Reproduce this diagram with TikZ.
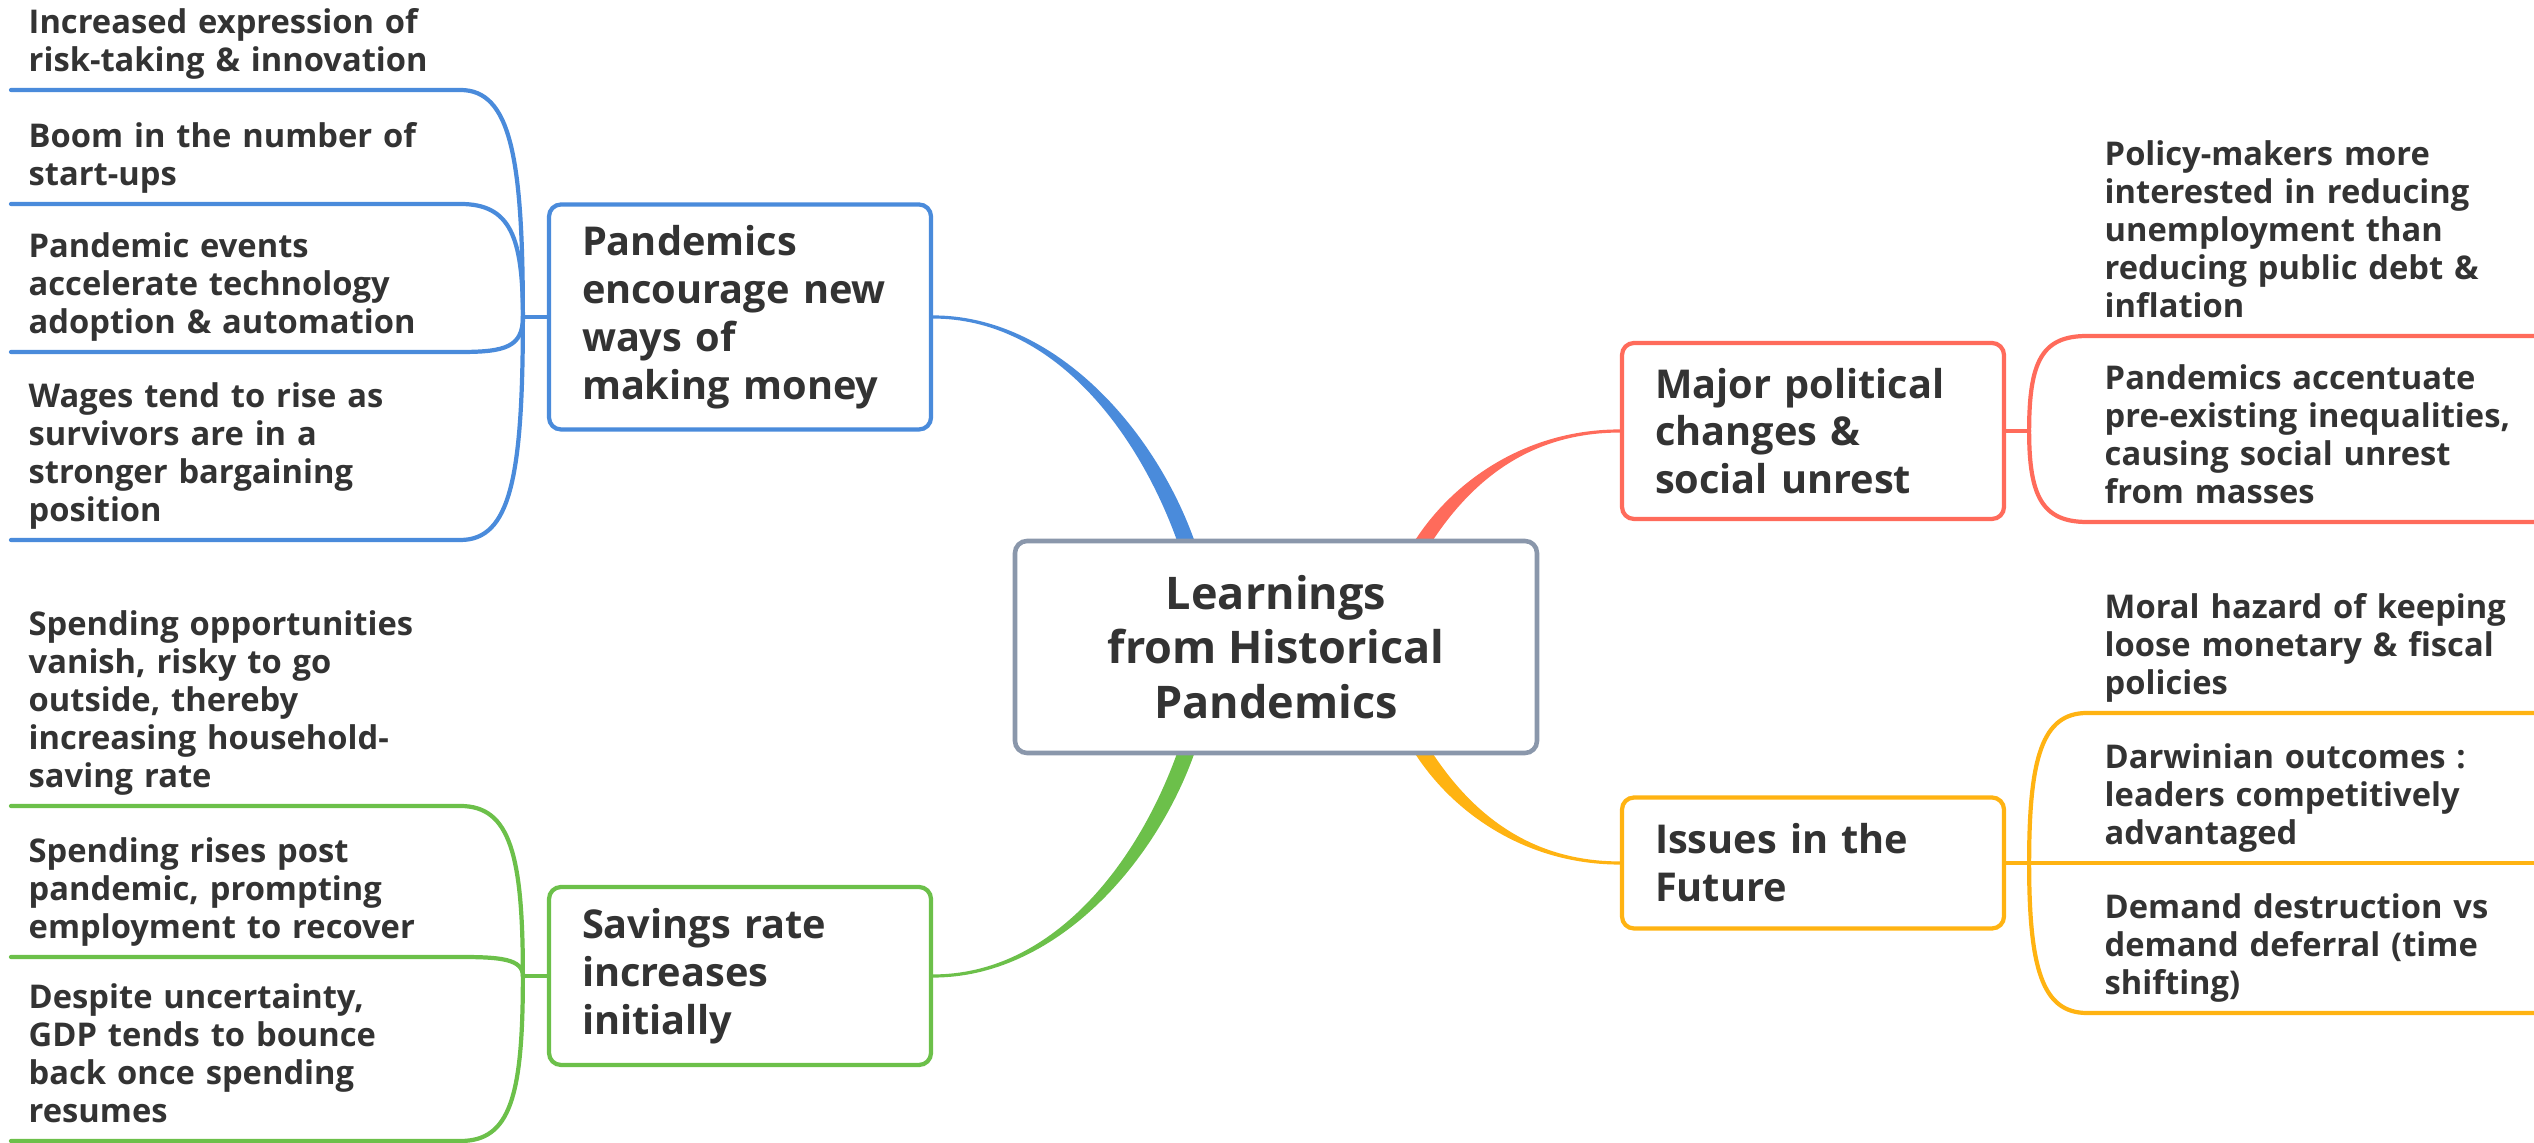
\documentclass[tikz,border=0pt]{standalone}
\usepackage{fontspec}
\setmainfont{Open Sans}
\usepackage{xcolor}
\usepackage{tikz}
\usetikzlibrary{calc,positioning,backgrounds}
\definecolor{colorMoney}{HTML}{4A8BDB}
\definecolor{colorSave}{HTML}{6CC04A}
\definecolor{colorPol}{HTML}{FF6B5B}
\definecolor{colorFut}{HTML}{FFB312}
\definecolor{colorHub}{HTML}{8A97AB}
\definecolor{colorTxt}{HTML}{333333}
\tikzset{
   every path/.style={line cap=round},
   twig/.style={line width=1.2pt},
   limb/.style={line width=0.9pt},
}

\begin{document}
\begin{tikzpicture}[
  hub/.style={rectangle, rounded corners=0.12cm, draw=colorHub, line width=1.3pt, fill=white, minimum width=5.22cm, minimum height=2.12cm, align=center, text=colorTxt, font=\fontsize{12.8}{15.6}\selectfont\bfseries},
  topic/.style={rectangle, rounded corners=0.12cm, line width=1.2pt, fill=white, text width=3.16cm, inner xsep=0.33cm, inner ysep=0.1cm, align=left, text=colorTxt, font=\fontsize{11.3}{13.6}\selectfont\bfseries},
  leaf/.style={anchor=south west, text width=4.14cm, inner xsep=0.17cm, inner ysep=1.75pt, align=left, execute at end node=\strut, text=colorTxt, font=\fontsize{9.3}{10.8}\selectfont\bfseries}]
  \useasboundingbox (0,0) rectangle (25.34,11.43);

  \node [hub] (hub) at (12.76,4.96) {Learnings\\ from Historical\\ Pandemics};

  \node [topic, draw=colorMoney, minimum height=2.25cm] (money) at (7.40,8.26) {Pandemics\\ encourage new\\ ways of\\ making money};
  \node [topic, draw=colorSave, minimum height=1.78cm] (save) at (7.40,1.67) {Savings rate\\ increases\\ initially};
  \node [topic, draw=colorPol, minimum height=1.76cm] (pol) at (18.13,7.12) {Major political\\ changes \&\\ social unrest};
  \node [topic, draw=colorFut, minimum height=1.31cm] (fut) at (18.13,2.80) {Issues in the\\ Future};

  \node [leaf] (m1) at (0.11,10.53) {Increased expression of\\ risk-taking \& innovation};
  \node [leaf] (m2) at (0.11,9.39) {Boom in the number of\\ start-ups};
  \node [leaf] (m3) at (0.11,7.91) {Pandemic events\\ accelerate technology\\ adoption \& automation};
  \node [leaf] (m4) at (0.11,6.03) {Wages tend to rise as\\ survivors are in a\\ stronger bargaining\\ position};

  \node [leaf] (s1) at (0.11,3.37) {Spending opportunities\\ vanish, risky to go\\ outside, thereby\\ increasing household-\\ saving rate};
  \node [leaf] (s2) at (0.11,1.86) {Spending rises post\\ pandemic, prompting\\ employment to recover};
  \node [leaf] (s3) at (0.11,0.02) {Despite uncertainty,\\ GDP tends to bounce\\ back once spending\\ resumes};

  \node [leaf] (p1) at (20.87,8.07) {Policy-makers more\\ interested in reducing\\ unemployment than\\ reducing public debt \&\\ inflation};
  \node [leaf] (p2) at (20.87,6.21) {Pandemics accentuate\\ pre-existing inequalities,\\ causing social unrest\\ from masses};

  \node [leaf] (f1) at (20.87,4.30) {Moral hazard of keeping\\ loose monetary \& fiscal\\ policies};
  \node [leaf] (f2) at (20.87,2.80) {Darwinian outcomes :\\ leaders competitively\\ advantaged};
  \node [leaf] (f3) at (20.87,1.30) {Demand destruction vs\\ demand deferral (time\\ shifting)};

  \coordinate (mj) at ($(money.west)+(-0.24,0)$);
  \coordinate (sj) at ($(save.west)+(-0.24,0)$);
  \coordinate (pj) at ($(pol.east)+(0.23,0)$);
  \coordinate (fj) at ($(fut.east)+(0.23,0)$);
  \coordinate (hm) at ($(hub.north)+(-0.91,0)$);
  \coordinate (hp) at ($(hub.north)+(1.49,0)$);
  \coordinate (hs) at ($(hub.south)+(-0.91,0)$);
  \coordinate (hf) at ($(hub.south)+(1.49,0)$);

  \begin{scope}[on background layer]
   \filldraw [colorMoney, limb] (money.east) .. controls +(1.2,0) and +(-0.4,1.1) .. ($(hm)+(-0.07,0)$) -- ($(hm)+(0.07,0)$) .. controls +(-0.4,1.1) and +(1.2,0) .. (money.east) -- cycle;
   \filldraw [colorSave, limb] (save.east) .. controls +(1.2,0) and +(-0.4,-1.1) .. ($(hs)+(-0.07,0)$) -- ($(hs)+(0.07,0)$) .. controls +(-0.4,-1.1) and +(1.2,0) .. (save.east) -- cycle;
   \filldraw [colorPol, limb] (pol.west) .. controls +(-0.9,0) and +(0.4,0.6) .. ($(hp)+(-0.07,0)$) -- ($(hp)+(0.07,0)$) .. controls +(0.4,0.6) and +(-0.9,0) .. (pol.west) -- cycle;
   \filldraw [colorFut, limb] (fut.west) .. controls +(-0.9,0) and +(0.4,-0.6) .. ($(hf)+(-0.07,0)$) -- ($(hf)+(0.07,0)$) .. controls +(0.4,-0.6) and +(-0.9,0) .. (fut.west) -- cycle;
  \end{scope}

  \begin{scope}[twig, colorMoney]
   \draw (money.west) -- (mj);
   \draw (mj) .. controls +(0,1.6) and +(0.5,0) .. (m1.south east) -- (m1.south west);
   \draw (mj) .. controls +(0,0.8) and +(0.5,0) .. (m2.south east) -- (m2.south west);
   \draw (mj) .. controls +(0,-0.3) and +(0.45,0) .. (m3.south east) -- (m3.south west);
   \draw (mj) .. controls +(0,-1.6) and +(0.5,0) .. (m4.south east) -- (m4.south west);
  \end{scope}
  \begin{scope}[twig, colorSave]
   \draw (save.west) -- (sj);
   \draw (sj) .. controls +(0,1.2) and +(0.5,0) .. (s1.south east) -- (s1.south west);
   \draw (sj) .. controls +(0,0.17) and +(0.4,0) .. (s2.south east) -- (s2.south west);
   \draw (sj) .. controls +(0,-1.2) and +(0.5,0) .. (s3.south east) -- (s3.south west);
  \end{scope}
  \begin{scope}[twig, colorPol]
   \draw (pol.east) -- (pj);
   \draw (pj) .. controls +(0,0.7) and +(-0.45,0) .. (p1.south west) -- (p1.south east);
   \draw (pj) .. controls +(0,-0.65) and +(-0.45,0) .. (p2.south west) -- (p2.south east);
  \end{scope}
  \begin{scope}[twig, colorFut]
   \draw (fut.east) -- (fj);
   \draw (fj) .. controls +(0,1.05) and +(-0.45,0) .. (f1.south west) -- (f1.south east);
   \draw (fj) -- (f2.south west) -- (f2.south east);
   \draw (fj) .. controls +(0,-1.05) and +(-0.45,0) .. (f3.south west) -- (f3.south east);
  \end{scope}
\end{tikzpicture}
\end{document}
